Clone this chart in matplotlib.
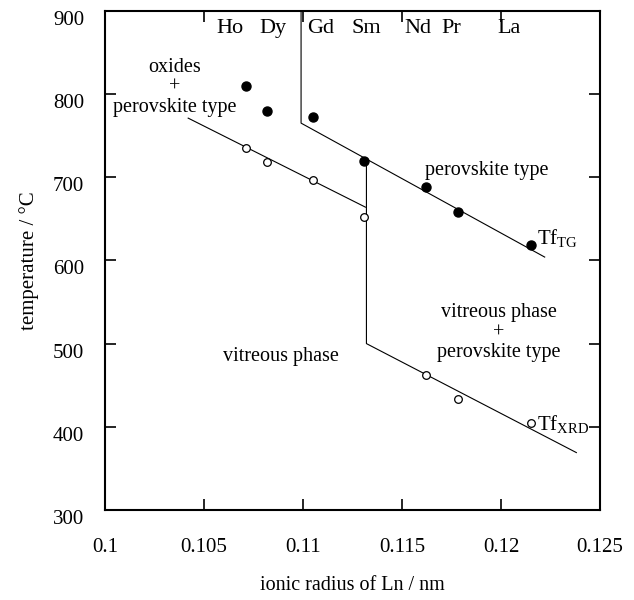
import matplotlib.pyplot as plt
import matplotlib.transforms as mtransforms
import numpy as np

plt.rcParams['font.family'] = ['Liberation Serif', 'DejaVu Serif']

# ionic radius (nm) and transition temperatures (degC)
ln_names = ['Ho', 'Dy', 'Gd', 'Sm', 'Nd', 'Pr', 'La']
ln_label_x = [0.1063, 0.1085, 0.1109, 0.1132, 0.1158, 0.1175, 0.1204]
radius = [0.1071, 0.1082, 0.1105, 0.1131, 0.1162, 0.1178, 0.1215]
tf_tg = [810, 780, 772, 720, 688, 658, 618]
tf_xrd = [735, 718, 697, 652, 462, 433, 405]

# phase boundaries
upper_x = [0.1099, 0.1099, 0.1222]
upper_y = [900, 765, 604]
left_x = [0.1042, 0.11315]
left_y = [771, 664]
lower_x = [0.1132, 0.1132, 0.1238]
lower_y = [720, 500, 369]

fig = plt.figure(figsize=(6.34, 6.0), dpi=100)
ax = fig.add_axes([0.1656, 0.15, 0.781, 0.832])

ax.plot(upper_x, upper_y, color='black', lw=0.8)
ax.plot(left_x, left_y, color='black', lw=0.8)
ax.plot(lower_x, lower_y, color='black', lw=0.8)

ax.plot(radius, tf_tg, 'o', color='black', markersize=6.5)
ax.plot(radius, tf_xrd, 'o', markerfacecolor='white', markeredgecolor='black',
        markersize=5.5, markeredgewidth=0.9)

for name, xv in zip(ln_names, ln_label_x):
    ax.text(xv, 879, name, ha='center', va='center', fontsize=16)

ax.text(0.1035, 808, 'oxides\n+\nperovskite type', ha='center', va='center',
        fontsize=14.5, linespacing=1.08)
ax.text(0.1193, 708, 'perovskite type', ha='center', va='center', fontsize=14.5)
ax.text(0.1199, 513, 'vitreous phase\n+\nperovskite type', ha='center', va='center',
        fontsize=14.5, linespacing=1.08)
ax.text(0.1089, 485, 'vitreous phase', ha='center', va='center', fontsize=14.5)
ax.text(0.1218, 626, r'Tf$_{\mathregular{TG}}$', ha='left', va='center', fontsize=15)
ax.text(0.1218, 402, r'Tf$_{\mathregular{XRD}}$', ha='left', va='center', fontsize=15)

ax.set_xlim(0.1, 0.125)
ax.set_ylim(300, 900)
ax.set_xticks([0.1, 0.105, 0.11, 0.115, 0.12, 0.125])
ax.set_xticklabels(['0.1', '0.105', '0.11', '0.115', '0.12', '0.125'])
ax.set_yticks(np.arange(300, 901, 100))
ax.tick_params(direction='in', top=True, right=True, length=8, width=1.2,
               labelsize=15)
ax.tick_params(axis='x', pad=20)
ax.tick_params(axis='y', pad=15)
for sp in ax.spines.values():
    sp.set_linewidth(1.5)

# y tick labels sit a little below their ticks in the original
shift = mtransforms.ScaledTranslation(0, -7 / 100, fig.dpi_scale_trans)
for lab in ax.get_yticklabels():
    lab.set_transform(lab.get_transform() + shift)

ax.set_xlabel('ionic radius of Ln / nm', fontsize=14.5, labelpad=14)
ax.set_ylabel('temperature / °C', fontsize=15, labelpad=10)

fig.savefig('out.png', dpi=100)
